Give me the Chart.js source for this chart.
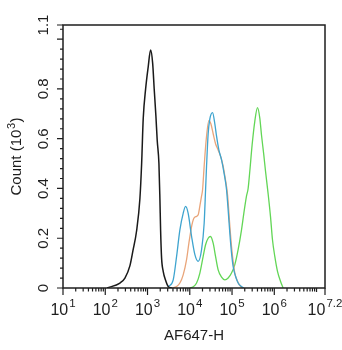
<!DOCTYPE html>
<html>
<head>
<meta charset="utf-8">
<script src="https://cdn.jsdelivr.net/npm/chart.js@4.4.0/dist/chart.umd.min.js"></script>
<style>
  html, body { margin: 0; padding: 0; background: #fff; }
</style>
</head>
<body>
<canvas id="histo" width="342" height="350"></canvas>
<script>
// AF647-H intensity and count (x10^3) for each overlaid histogram
const controlX = [110, 223, 292, 384, 452, 552, 661, 726, 791, 902, 1040, 1183, 1321, 1439, 1581, 1694, 1862, 1963, 2042, 2153, 2350, 2723, 3083, 3776];
const controlY = [0, 0.02, 0.04, 0.09, 0.15, 0.23, 0.36, 0.50, 0.68, 0.80, 0.89, 0.957, 0.905, 0.80, 0.69, 0.595, 0.50, 0.36, 0.23, 0.12, 0.067, 0.027, 0.006, 0];

const blueX = [3083, 4055, 4876, 5834, 6982, 7958, 9164, 11040, 13210, 15810, 19020, 21900, 23660, 24950, 27230, 29860, 34580, 39170, 43030, 48760, 56490, 65030, 74130, 80910, 88720, 97300, 106200, 121000, 139400, 167700, 190100];
const blueY = [0.005, 0.033, 0.127, 0.234, 0.30, 0.328, 0.30, 0.207, 0.134, 0.107, 0.154, 0.26, 0.395, 0.49, 0.62, 0.68, 0.705, 0.66, 0.61, 0.555, 0.515, 0.46, 0.395, 0.314, 0.22, 0.14, 0.087, 0.047, 0.02, 0.006, 0];

const orangeX = [3776, 4876, 5834, 6982, 8395, 9528, 11040, 12500, 14480, 15810, 17340, 19020, 20090, 21900, 24430, 28310, 31560, 35760, 40740, 46930, 53450, 61640, 67610, 78320, 88720, 97300, 106200, 116400, 134900, 161400, 179900];
const orangeY = [0, 0.006, 0.02, 0.053, 0.114, 0.18, 0.247, 0.28, 0.288, 0.294, 0.33, 0.37, 0.395, 0.49, 0.595, 0.673, 0.66, 0.62, 0.58, 0.555, 0.53, 0.49, 0.45, 0.375, 0.25, 0.167, 0.107, 0.06, 0.027, 0.005, 0];

const greenX = [10050, 12020, 14480, 17340, 20750, 23660, 27230, 31050, 35760, 40740, 46930, 56490, 67610, 80910, 97300, 116400, 139400, 167700, 190100, 220300, 240400, 263600, 298800, 345800, 400800, 454100, 497800, 564500, 619300, 713200, 812600, 905700, 1028000, 1191000, 1402000, 1615000];
const greenY = [0, 0.005, 0.02, 0.06, 0.127, 0.174, 0.20, 0.207, 0.18, 0.127, 0.073, 0.044, 0.033, 0.04, 0.06, 0.094, 0.154, 0.234, 0.30, 0.37, 0.40, 0.47, 0.575, 0.67, 0.725, 0.683, 0.615, 0.535, 0.47, 0.38, 0.288, 0.194, 0.127, 0.067, 0.027, 0];

// axis ticks: decades on x (exponent labels), counts on y
const xTickExps = ['1', '2', '3', '4', '5', '6', '7.2'];
const yTickVals = [0, 0.2, 0.4, 0.6, 0.8, 1.0];
const yTickLabels = ['0', '0.2', '0.4', '0.6', '0.8', ''];
const yTopLabel = '1.1';
const xTitle = 'AF647-H';
const yTitle = ['Count (10', '3', ')'];

const X_MIN = 10, X_MAX = Math.pow(10, 7.2);
const Y_MAX = 1.057;

function pts(xs, ys) {
  return xs.map((x, i) => ({ x: x, y: ys[i] }));
}

const FONT = '"Liberation Sans", Arial, sans-serif';
const INK = '#1e1e1e';

// frame, ticks and labels drawn by hand (superscripts, rotated y labels)
const axesPlugin = {
  id: 'flowAxes',
  afterDatasetsDraw(chart) {
    const ctx = chart.ctx;
    const a = chart.chartArea;
    const xs = chart.scales.x, ys = chart.scales.y;
    ctx.save();
    ctx.strokeStyle = INK;
    ctx.fillStyle = INK;
    ctx.lineWidth = 1.5;
    ctx.strokeRect(a.left, a.top, a.right - a.left, a.bottom - a.top);

    // x ticks
    ctx.lineWidth = 1.2;
    ctx.beginPath();
    for (let e = 1; e <= 7; e++) {
      const px = xs.getPixelForValue(Math.pow(10, e));
      ctx.moveTo(px, a.bottom); ctx.lineTo(px, a.bottom + (e < 7 ? 7 : 4));
      if (e < 7) {
        for (let m = 2; m <= 9; m++) {
          const mx = xs.getPixelForValue(m * Math.pow(10, e));
          ctx.moveTo(mx, a.bottom); ctx.lineTo(mx, a.bottom + 3.5);
        }
      }
    }
    ctx.moveTo(a.right, a.bottom); ctx.lineTo(a.right, a.bottom + 7);
    // y ticks
    for (let v = 0; v <= 1.041; v += 0.04) {
      const py = ys.getPixelForValue(v);
      const major = Math.abs(v / 0.2 - Math.round(v / 0.2)) < 1e-6;
      ctx.moveTo(a.left, py); ctx.lineTo(a.left - (major ? 6 : 3), py);
    }
    ctx.moveTo(a.left, a.top); ctx.lineTo(a.left - 6, a.top);
    ctx.stroke();

    // x tick labels: 10 with superscript exponent
    xTickExps.forEach(exp => {
      const px = xs.getPixelForValue(Math.pow(10, parseFloat(exp)));
      ctx.font = '16px ' + FONT;
      const wBase = ctx.measureText('10').width;
      ctx.font = '11.5px ' + FONT;
      const wSup = ctx.measureText(exp).width;
      const start = px - (wBase + wSup + 1) / 2;
      ctx.textAlign = 'left';
      ctx.textBaseline = 'alphabetic';
      ctx.font = '16px ' + FONT;
      ctx.fillText('10', start, 315);
      ctx.font = '11.5px ' + FONT;
      ctx.fillText(exp, start + wBase + 1, 307);
    });

    // y tick labels, rotated
    ctx.font = '15px ' + FONT;
    ctx.textAlign = 'center';
    ctx.textBaseline = 'middle';
    const yLab = (txt, py) => {
      ctx.save();
      ctx.translate(44, py);
      ctx.rotate(-Math.PI / 2);
      ctx.fillText(txt, 0, 0);
      ctx.restore();
    };
    yTickVals.forEach((v, i) => { if (yTickLabels[i]) yLab(yTickLabels[i], ys.getPixelForValue(v)); });
    yLab(yTopLabel, a.top);

    // x title
    ctx.font = '15px ' + FONT;
    ctx.textAlign = 'center';
    ctx.textBaseline = 'middle';
    ctx.fillText(xTitle, (a.left + a.right) / 2, 336);

    // y title with superscript
    ctx.save();
    ctx.translate(17, (a.top + a.bottom) / 2);
    ctx.rotate(-Math.PI / 2);
    ctx.textAlign = 'left';
    ctx.textBaseline = 'middle';
    ctx.font = '15px ' + FONT;
    const w1 = ctx.measureText(yTitle[0]).width;
    const w3 = ctx.measureText(yTitle[2]).width;
    ctx.font = '11px ' + FONT;
    const w2 = ctx.measureText(yTitle[1]).width;
    let sx = -(w1 + w2 + w3 + 1) / 2;
    ctx.font = '15px ' + FONT;
    ctx.fillText(yTitle[0], sx, 0);
    ctx.font = '11px ' + FONT;
    ctx.fillText(yTitle[1], sx + w1 + 0.5, -5);
    ctx.font = '15px ' + FONT;
    ctx.fillText(yTitle[2], sx + w1 + w2 + 1, 0);
    ctx.restore();

    ctx.restore();
  }
};

const line = (data, color, width) => ({
  data: data,
  borderColor: color,
  borderWidth: width,
  pointRadius: 0,
  fill: false,
  cubicInterpolationMode: 'monotone'
});

new Chart(document.getElementById('histo'), {
  type: 'line',
  data: {
    datasets: [
      line(pts(controlX, controlY), '#1a1a1a', 1.5),
      line(pts(blueX, blueY), '#3ea4cf', 1.3),
      line(pts(orangeX, orangeY), '#e9a57a', 1.3),
      line(pts(greenX, greenY), '#62d656', 1.3)
    ]
  },
  options: {
    responsive: false,
    animation: false,
    devicePixelRatio: 1,
    layout: { padding: { left: 63, right: 17, top: 25, bottom: 62 } },
    plugins: { legend: { display: false }, tooltip: { enabled: false } },
    scales: {
      x: { type: 'logarithmic', min: X_MIN, max: X_MAX, display: false },
      y: { type: 'linear', min: 0, max: Y_MAX, display: false }
    }
  },
  plugins: [axesPlugin]
});
</script>
</body>
</html>
